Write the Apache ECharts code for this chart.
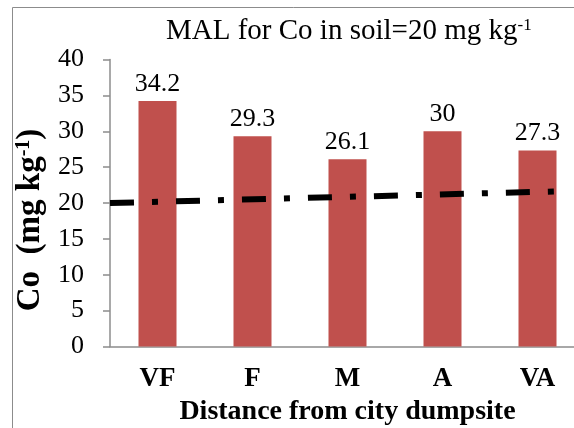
<!DOCTYPE html>
<html>
<head>
<meta charset="utf-8">
<script src="https://cdn.jsdelivr.net/npm/echarts@6/dist/echarts.min.js"></script>
<style>
  html, body { margin: 0; padding: 0; background: #fff; }
  #chart { width: 574px; height: 428px; }
</style>
</head>
<body>
<div id="chart"></div>
<script>
// Sampling sites, ordered by distance from the dumpsite
const categories = ['VF', 'F', 'M', 'A', 'VA'];
// Cobalt concentration in soil (mg/kg)
const coValues = [34.2, 29.3, 26.1, 30, 27.3];
// Reference trend for the maximum allowable limit (x in category units, y in mg/kg)
const malLine = [[0, 20.0], [4.8, 21.65]];
// Value-axis ticks
const yTicks = [0, 5, 10, 15, 20, 25, 30, 35, 40];

const serif = '"Liberation Serif", "Times New Roman", serif';
const chart = echarts.init(document.getElementById('chart'), null, { renderer: 'canvas' });

chart.setOption({
  animation: false,
  backgroundColor: '#ffffff',
  graphic: [{
    type: 'rect',
    shape: { x: 12.5, y: 7.5, width: 600, height: 440 },
    style: { fill: 'none', stroke: '#8c8c8c', lineWidth: 1 },
    silent: true,
    z: -1
  }],
  title: {
    text: 'MAL for Co in soil=20 mg kg{sup|-1}',
    left: 161,
    top: 12,
    textStyle: {
      fontFamily: serif,
      fontSize: 29,
      fontWeight: 'normal',
      color: '#000',
      rich: {
        sup: { fontFamily: serif, fontSize: 17, color: '#000', verticalAlign: 'top', padding: [0, 0, 12, 0] }
      }
    }
  },
  grid: { left: 110, top: 59.5, width: 475, height: 287, outerBoundsMode: 'none' },
  xAxis: [{
    type: 'category',
    data: categories,
    axisLine: { lineStyle: { color: '#8c8c8c', width: 1.5 } },
    axisTick: { show: false },
    axisLabel: {
      fontFamily: serif, fontSize: 27, fontWeight: 'bold', color: '#000', margin: 19
    },
    name: 'Distance from city dumpsite',
    nameLocation: 'middle',
    nameGap: 47,
    nameTextStyle: { fontFamily: serif, fontSize: 28, fontWeight: 'bold', color: '#000' }
  }, {
    type: 'value',
    min: 0,
    max: 5,
    show: false
  }],
  yAxis: {
    type: 'value',
    min: yTicks[0],
    max: yTicks[yTicks.length - 1],
    interval: yTicks[1] - yTicks[0],
    splitLine: { show: false },
    axisLine: { show: true, lineStyle: { color: '#8c8c8c', width: 1.5 } },
    axisTick: { show: true, inside: false, length: 7, lineStyle: { color: '#8c8c8c', width: 1.5 } },
    axisLabel: { fontFamily: serif, fontSize: 26, color: '#000', margin: 26 },
    name: 'Co  (mg kg{sup|-1})',
    nameLocation: 'middle',
    nameRotate: 90,
    nameGap: 57,
    nameTextStyle: {
      fontFamily: serif, fontSize: 33, fontWeight: 'bold', color: '#000',
      padding: [0, 34, 0, 0],
      rich: {
        sup: { fontFamily: serif, fontSize: 20, fontWeight: 'bold', color: '#000', verticalAlign: 'top', padding: [0, 0, 13, 0] }
      }
    }
  },
  series: [{
    type: 'bar',
    data: coValues,
    barWidth: 38,
    itemStyle: { color: '#C0504D' },
    label: {
      show: true,
      position: 'top',
      distance: 4,
      fontFamily: serif,
      fontSize: 26,
      color: '#000'
    }
  }, {
    type: 'line',
    xAxisIndex: 1,
    data: malLine,
    symbol: 'none',
    lineStyle: { color: '#000', width: 6, type: [24, 18, 6, 18], cap: 'butt' },
    z: 5
  }]
});
</script>
</body>
</html>
